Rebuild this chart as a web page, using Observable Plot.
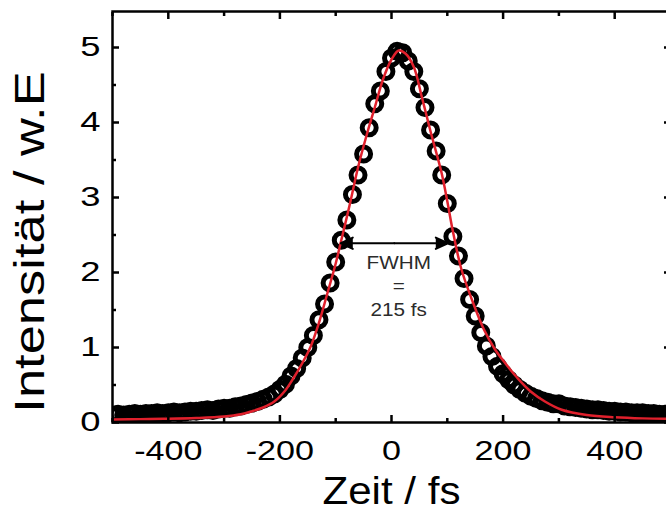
<!DOCTYPE html>
<html><head><meta charset="utf-8">
<script src="https://cdn.jsdelivr.net/npm/d3@7"></script>
<script src="https://cdn.jsdelivr.net/npm/@observablehq/plot@0.6"></script>
<style>html,body{margin:0;padding:0;background:#fff}svg{display:block}</style>
</head><body><div id="chart"></div>
<script>
// measured pulse (open circles)
const timeFs = [-500,-490,-480,-470,-460,-450,-440,-430,-420,-410,-400,-390,-380,-370,-360,-350,-340,-330,-320,-310,-300,-290,-280,-270,-260,-250,-240,-230,-220,-210,-200,-190,-180,-170,-160,-150,-140,-130,-120,-110,-100,-90,-80,-70,-60,-50,-40,-30,-20,-10,0,10,20,30,40,50,60,70,80,90,100,110,120,130,140,150,160,170,180,190,200,210,220,230,240,250,260,270,280,290,300,310,320,330,340,350,360,370,380,390,400,410,420,430,440,450,460,470,480,490,500];
const intensity = [0.10,0.11,0.10,0.11,0.12,0.11,0.12,0.12,0.13,0.12,0.13,0.14,0.13,0.14,0.15,0.15,0.16,0.17,0.16,0.18,0.19,0.19,0.21,0.22,0.24,0.26,0.28,0.31,0.34,0.38,0.44,0.51,0.62,0.72,0.86,1.00,1.16,1.37,1.58,1.86,2.14,2.43,2.70,3.04,3.30,3.58,3.93,4.25,4.42,4.68,4.86,4.95,4.93,4.82,4.68,4.45,4.20,3.90,3.62,3.30,2.92,2.48,2.22,1.92,1.64,1.42,1.20,1.02,0.88,0.75,0.65,0.57,0.50,0.44,0.39,0.35,0.32,0.29,0.27,0.25,0.25,0.22,0.21,0.20,0.19,0.18,0.17,0.17,0.16,0.15,0.15,0.14,0.14,0.13,0.13,0.13,0.12,0.12,0.11,0.11,0.11];
// fitted curve (red line)
const fitTime = [-500,-450,-400,-350,-300,-270,-250,-230,-210,-190,-175,-160,-145,-130,-115,-100,-90,-75,-60,-45,-30,-15,0,13,25,40,55,70,90,100,110,125,145,165,185,205,225,250,275,305,350,400,450,500];
const fitIntensity = [0.04,0.045,0.05,0.06,0.08,0.11,0.15,0.20,0.28,0.43,0.60,0.79,1.01,1.33,1.72,2.12,2.43,2.90,3.40,3.82,4.20,4.58,4.84,4.96,4.92,4.74,4.32,3.88,3.32,2.95,2.55,2.05,1.62,1.25,0.98,0.78,0.60,0.41,0.28,0.17,0.10,0.07,0.055,0.05];
// axes
const xTicks = [-400,-200,0,200,400];
const xMinorTicks = [-500,-300,-100,100,300,500];
const yTicks = [0,1,2,3,4,5];
const yMinorTicks = [0.5,1.5,2.5,3.5,4.5];
const xLabel = "Zeit / fs";
const yLabel = "Intensität / w.E";
// FWHM annotation
const fwhmLevel = 2.39;
const fwhmMid = 5;
const fwhmEnds = [-91, 101];
const noteX = 13;
const noteY = 2.27;
const noteText = "FWHM\n=\n215 fs";

const data = timeFs.map((t, i) => ({t, v: intensity[i]}));
const fit = fitTime.map((t, i) => ({t, v: fitIntensity[i]}));
const arrows = fwhmEnds.map(e => ({x1: fwhmMid, x2: e, y: fwhmLevel}));

const font = "'Liberation Sans', Arial, sans-serif";
const tickCommon = {strokeWidth: 2.5, label: null, stroke: "#000"};
const fmt = d => String(d);

const plot = Plot.plot({
  width: 666, height: 511,
  marginLeft: 112, marginTop: 11, marginBottom: 89, marginRight: -4,
  x: {domain: [-500, 500]},
  y: {domain: [0, 5.48]},
  style: {fontFamily: font, background: "#fff", color: "#000"},
  marks: [
    Plot.dot(data, {x: "t", y: "v", r: 7, stroke: "#000", strokeWidth: 5, fill: "none", clip: "frame"}),
    Plot.line(fit, {x: "t", y: "v", stroke: "#e0202c", strokeWidth: 2.5, curve: "catmull-rom", clip: "frame"}),
    Plot.arrow(arrows, {x1: "x1", x2: "x2", y1: "y", y2: "y", stroke: "#000", fill: "#000", strokeWidth: 2, headLength: 10, headAngle: 50}),
    Plot.text([noteText], {x: noteX, y: noteY, text: d => d, fontSize: 18, lineHeight: 1.3, lineAnchor: "top", fill: "#2b2b2b"}),
    Plot.frame({stroke: "#000", strokeWidth: 2.5}),
    Plot.axisX(xTicks, {anchor: "bottom", tickSize: -7, tickPadding: 25, fontSize: 28, tickFormat: fmt, ...tickCommon}),
    Plot.axisX(xMinorTicks, {anchor: "bottom", tickSize: -4, tickFormat: () => "", ...tickCommon}),
    Plot.axisX(xTicks, {anchor: "top", tickSize: -7, tickFormat: () => "", ...tickCommon}),
    Plot.axisX(xMinorTicks, {anchor: "top", tickSize: -4, tickFormat: () => "", ...tickCommon}),
    Plot.axisY(yTicks, {anchor: "left", tickSize: -7, tickPadding: 19, fontSize: 28, tickFormat: fmt, ...tickCommon}),
    Plot.axisY(yMinorTicks, {anchor: "left", tickSize: -4, tickFormat: () => "", ...tickCommon}),
    Plot.axisY(yTicks, {anchor: "right", tickSize: -7, tickFormat: () => "", ...tickCommon}),
    Plot.axisY(yMinorTicks, {anchor: "right", tickSize: -4, tickFormat: () => "", ...tickCommon}),
    Plot.text([xLabel], {frameAnchor: "bottom", text: d => d, dy: 81, lineAnchor: "bottom", fontSize: 39, fill: "#000"}),
    Plot.text([yLabel], {frameAnchor: "left", text: d => d, dx: -69, dy: 25, rotate: -90, textAnchor: "middle", lineAnchor: "bottom", fontSize: 42, fill: "#000"})
  ]
});

// widen lettering to match the reference's broad type
function stretchEl(el, sx) {
  const tr = el.getAttribute("transform") || "";
  el.setAttribute("transform", tr + ` scale(${sx},1)`);
}
plot.querySelectorAll('g[aria-label="x-axis tick label"] text').forEach(el => stretchEl(el, 1.22));
plot.querySelectorAll('g[aria-label="y-axis tick label"] text').forEach(el => stretchEl(el, 1.3));
plot.querySelectorAll('text').forEach(el => {
  const s = el.textContent;
  if (s === yLabel) stretchEl(el, 1.25);
  else if (s === xLabel) stretchEl(el, 1.08);
  else if (s.startsWith("FWHM")) stretchEl(el, 1.15);
});

document.getElementById("chart").append(plot);
</script>
</body></html>
